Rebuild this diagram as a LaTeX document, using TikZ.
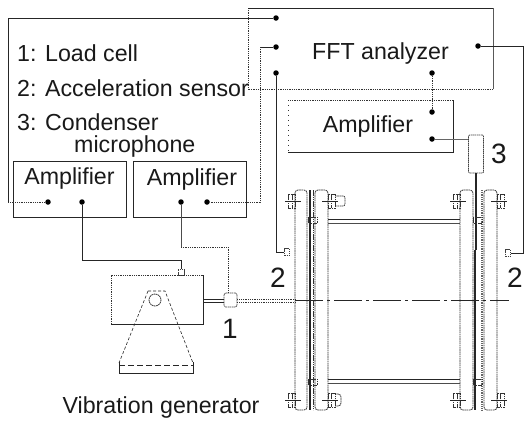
\documentclass[tikz,border=0pt]{standalone}
\usepackage{fontspec}
\setmainfont{Liberation Sans}
\begin{document}
\begin{tikzpicture}[x=1pt,y=-1pt,
  wire/.style={line width=0.8pt,draw=black!85},
  dotw/.style={line width=0.8pt,draw=black!80,dash pattern=on 1pt off 0.8pt},
  conn/.style={circle,fill=black,inner sep=0pt,minimum size=5.5pt},
  lab/.style={inner sep=0pt,font=\fontsize{23.2}{26}\selectfont,text=black!90,anchor=base},
  num/.style={inner sep=0pt,font=\fontsize{28}{30}\selectfont,text=black!90,anchor=base},
  part/.style={line width=0.8pt,draw=black!80,dash pattern=on 1.6pt off 0.6pt},
  sens/.style={draw=black!75,line width=0.7pt,dash pattern=on 1.5pt off 0.6pt,inner sep=0pt},
  ampbox/.style={draw=black!85,line width=0.8pt,minimum width=113pt,minimum height=56pt,inner sep=0pt},
  boltl/.pic={
    \draw[part] (-7,-7) rectangle (0,7);
    \draw[part] (-2.5,-7) -- (-2.5,7);
    \draw[wire,line width=0.6pt] (-10,0) -- (6,0);
  },
  boltr/.pic={
    \draw[part] (0,-7) rectangle (7,7);
    \draw[part] (3.5,-7) -- (3.5,7);
    \draw[wire,line width=0.6pt] (-6,0) -- (10,0);
  }]
\useasboundingbox (0,0) rectangle (525,421);
% FFT box
\draw[dotw] (248,8) -- (248,89);
\draw[wire] (248,8) -- (493,8);
\draw[wire,draw=black!65] (493,8) -- (493,89);
\draw[dotw] (493,89) -- (248,89);
\node[lab] (fft) at (380.5,59) {FFT analyzer};
% text list
\node[lab,anchor=base west] (t1) at (17,61) {1: Load cell};
\node[lab,anchor=base west] (t2) at (17,96) {2: Acceleration sensor};
\node[lab,anchor=base west] (t3) at (17,130.5) {3: Condenser};
\node[lab,anchor=base west] (t4) at (74,152.5) {microphone};
% amplifiers
\node[ampbox] (a1) at (69.5,189) {};
\node[lab] (a1t) at (69.5,184) {Amplifier};
\node[ampbox] (a2) at (189.5,189.5) {};
\node[lab] (a2t) at (192,185.5) {Amplifier};
\draw[wire] (288,152) -- (453,152) -- (453,100);
\draw[dotw] (453,100) -- (288,100);
\draw[dotw,dash pattern=on 1pt off 4pt] (288,100) -- (288,152);
\node[lab] (a3t) at (368,132.5) {Amplifier};
% connection points
\node[conn] (d1) at (276,18) {};
\node[conn] (d2) at (276,47) {};
\node[conn] (d3) at (276,73) {};
\node[conn] (d4) at (478,46) {};
\node[conn] (d5) at (432,73) {};
\node[conn] (d6) at (432,112) {};
\node[conn] (d7) at (432,139) {};
\node[conn] (e1) at (48,202) {};
\node[conn] (e2) at (82,202) {};
\node[conn] (e3) at (181,202) {};
\node[conn] (e4) at (207,202) {};
% sensors
\node[sens,rounded corners=1pt,minimum width=15pt,minimum height=38pt] (mic) at (476,154) {};
\node[sens,minimum width=5pt,minimum height=7pt] (s2l) at (287,252) {};
\node[sens,minimum width=5pt,minimum height=7pt] (s2r) at (508,253) {};
\node[sens,minimum width=6pt,minimum height=6pt] (s1) at (181,272) {};
\node[sens,rounded corners=1.5pt,minimum width=13pt,minimum height=14pt] (lc) at (230.5,300) {};
% wires
\draw[wire] (d1) -- (8,18) -- (8,202);
\draw[dotw] (8,202) -- (e1);
\draw[wire] (d2) -- (260,47);
\draw[dotw] (260,47) -- (260,202) -- (e4);
\draw[wire] (d3) -- (276,252) -- (s2l);
\draw[wire] (d4) -- (523,46) -- (523,253) -- (s2r);
\draw[dotw,line width=1pt] (d5) -- (d6);
\draw[wire,draw=black!60] (d7) -- (mic.west |- d7);
\draw[wire] (e2) -- (82,260) -- (181,260) -- (s1);
\draw[wire,draw=black!70] (e3) -- (181,247);
\draw[dotw] (181,247) -- (228,247) -- (228,293);
% shaker
\draw[dotw] (111,324) -- (111,275) -- (203,275);
\draw[wire] (203,275) -- (203,324) -- (111,324);
\draw[wire,line width=0.6pt,densely dashed] (148,291) -- (165,291) -- (193,363);
\draw[wire,line width=0.6pt,densely dashed] (148,291) -- (119,363);
\draw[part] (155,300) circle[radius=6];
\draw[wire,line width=0.7pt] (119,362) -- (119,373) -- (193,373) -- (193,362);
\draw[wire,dash pattern=on 6pt off 3pt] (119,365) -- (193,365);
% shaft
\draw[wire,line width=0.7pt] (203,299) -- (lc.west |- 0,299) (203,302) -- (lc.west |- 0,302);
\draw[dotw] (lc.east |- 0,299) -- (295,299) (lc.east |- 0,302) -- (295,302);
% flanges
\foreach \xa/\xb in {295/307,315/328,460/473,484/497}
  \draw[part,rounded corners=3pt] (\xa,190) rectangle (\xb,410);
\draw[wire,line width=1.1pt] (310,190) -- (310,410);
\draw[part] (313,190) -- (313,410);
\draw[wire,line width=1.1pt] (475,250) -- (475,410);
\draw[part,line width=2.4pt,dash pattern=on 1pt off 0.8pt,draw=black!60] (482,190) -- (482,410);
% cylinder
\draw[wire] (328,219) -- (460,219) (328,379) -- (460,379);
\draw[wire,line width=0.6pt,draw=black!70] (328,223) -- (460,223) (328,383) -- (460,383);
\draw[wire,line width=0.7pt,dash pattern=on 28pt off 4pt on 3pt off 4pt] (295,300) -- (509,300);
% rod of microphone
\draw[wire,line width=1.3pt] (mic.south) -- (476,250);
% bolts
\path (295,201) pic {boltl} (295,400) pic {boltl} (460,201) pic {boltl} (460,400) pic {boltl}
      (328,201) pic {boltr} (328,400) pic {boltr} (497,201) pic {boltr} (497,400) pic {boltr};
\draw[part,rounded corners=2pt] (335,196) -- (345,196) -- (345,206) -- (335,206);
\draw[part,rounded corners=3pt] (335,394) -- (341,394) -- (341,406) -- (335,406);
\foreach \x in {308,473}
  \foreach \y in {220,382}
    \draw[part] (\x,\y-3) rectangle (\x+9,\y+3);
% labels
\node[num] (n1) at (230,338) {1};
\node[num] (n2l) at (278,287) {2};
\node[num] (n2r) at (515,287) {2};
\node[num] (n3) at (499,163) {3};
\node[lab] (vg) at (161,413) {Vibration generator};
\end{tikzpicture}
\end{document}
